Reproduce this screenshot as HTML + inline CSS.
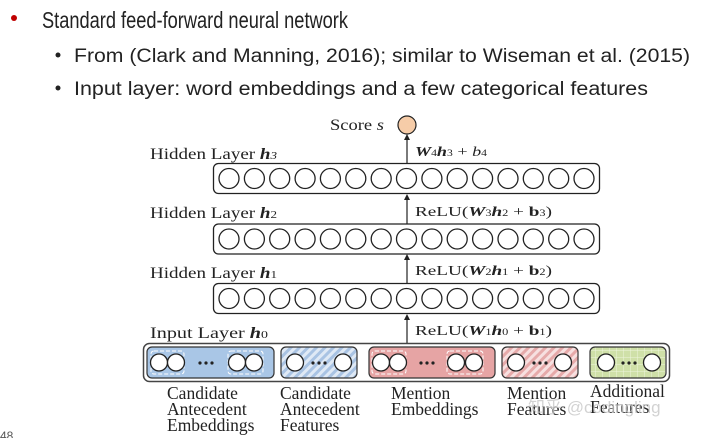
<!DOCTYPE html>
<html><head><meta charset="utf-8"><style>
html,body{margin:0;padding:0;background:#fff;width:720px;height:438px;overflow:hidden}
svg{display:block}
.s{font-family:"Liberation Serif",serif;fill:#222}
</style></head><body>
<svg width="720" height="438" viewBox="0 0 720 438" xmlns="http://www.w3.org/2000/svg">
<defs>
<pattern id="diagB" width="6" height="6" patternUnits="userSpaceOnUse" patternTransform="rotate(45)"><rect width="6" height="6" fill="#dfe9f5"/><rect width="3" height="6" fill="#a9c3e3"/></pattern>
<pattern id="diagR" width="6" height="6" patternUnits="userSpaceOnUse" patternTransform="rotate(45)"><rect width="6" height="6" fill="#f7e0e0"/><rect width="3" height="6" fill="#e6aaaa"/></pattern>
<pattern id="grid" width="7" height="7" patternUnits="userSpaceOnUse"><rect width="7" height="7" fill="#cfe0a8"/><path d="M0 0H7M0 0V7" stroke="#eef5dc" stroke-width="1"/></pattern>
<g id="row" fill="#fff" stroke="#222" stroke-width="1.3">
<circle cx="229" cy="0" r="10"/><circle cx="254.4" cy="0" r="10"/><circle cx="279.7" cy="0" r="10"/><circle cx="305.1" cy="0" r="10"/><circle cx="330.4" cy="0" r="10"/><circle cx="355.8" cy="0" r="10"/><circle cx="381.2" cy="0" r="10"/><circle cx="406.5" cy="0" r="10"/><circle cx="431.9" cy="0" r="10"/><circle cx="457.2" cy="0" r="10"/><circle cx="482.6" cy="0" r="10"/><circle cx="508" cy="0" r="10"/><circle cx="533.3" cy="0" r="10"/><circle cx="558.7" cy="0" r="10"/><circle cx="584" cy="0" r="10"/>
</g>
</defs>

<!-- header -->
<circle cx="14" cy="18" r="3" fill="#c00000"/>
<text x="42" y="28" font-family="Liberation Sans,sans-serif" font-size="23" fill="#222" textLength="306" lengthAdjust="spacingAndGlyphs">Standard feed-forward neural network</text>
<circle cx="58" cy="55" r="2.5" fill="#222"/>
<text x="74" y="62" font-family="Liberation Sans,sans-serif" font-size="19" fill="#222" textLength="616" lengthAdjust="spacingAndGlyphs">From (Clark and Manning, 2016); similar to Wiseman et al. (2015)</text>
<circle cx="58" cy="88" r="2.5" fill="#222"/>
<text x="74" y="95" font-family="Liberation Sans,sans-serif" font-size="19" fill="#222" textLength="574" lengthAdjust="spacingAndGlyphs">Input layer: word embeddings and a few categorical features</text>

<!-- score -->
<text class="s" x="330" y="130" font-size="15.5" textLength="54" lengthAdjust="spacingAndGlyphs">Score <tspan font-style="italic">s</tspan></text>
<circle cx="407" cy="125" r="9" fill="#f6cca8" stroke="#222" stroke-width="1.2"/>

<!-- arrows -->
<g stroke="#222" stroke-width="1.2">
<line x1="407" y1="163" x2="407" y2="138"/>
<line x1="407" y1="224" x2="407" y2="198"/>
<line x1="407" y1="283" x2="407" y2="258"/>
<line x1="407" y1="343" x2="407" y2="318"/>
</g>
<g fill="#222">
<path d="M404 140 L407 134 L410 140Z"/><path d="M404 200 L407 194 L410 200Z"/><path d="M404 260 L407 254 L410 260Z"/><path d="M404 320 L407 314 L410 320Z"/>
</g>

<!-- layer labels -->
<text class="s" x="150" y="159" font-size="16" textLength="127" lengthAdjust="spacingAndGlyphs">Hidden Layer <tspan font-weight="bold" font-style="italic">h</tspan><tspan font-size="11" font-style="italic">3</tspan></text>
<text class="s" x="150" y="218" font-size="16" textLength="127" lengthAdjust="spacingAndGlyphs">Hidden Layer <tspan font-weight="bold" font-style="italic">h</tspan><tspan font-size="11">2</tspan></text>
<text class="s" x="150" y="278" font-size="16" textLength="127" lengthAdjust="spacingAndGlyphs">Hidden Layer <tspan font-weight="bold" font-style="italic">h</tspan><tspan font-size="11">1</tspan></text>
<text class="s" x="150" y="338" font-size="16" textLength="118" lengthAdjust="spacingAndGlyphs">Input Layer <tspan font-weight="bold" font-style="italic">h</tspan><tspan font-size="11">0</tspan></text>

<text class="s" x="415" y="156" font-size="14" textLength="72" lengthAdjust="spacingAndGlyphs"><tspan font-weight="bold" font-style="italic">W</tspan><tspan font-size="9">4</tspan><tspan font-weight="bold" font-style="italic">h</tspan><tspan font-size="9">3</tspan> + <tspan font-style="italic">b</tspan><tspan font-size="9">4</tspan></text>
<text class="s" x="415" y="216" font-size="14" textLength="137" lengthAdjust="spacingAndGlyphs">ReLU(<tspan font-weight="bold" font-style="italic">W</tspan><tspan font-size="9">3</tspan><tspan font-weight="bold" font-style="italic">h</tspan><tspan font-size="9">2</tspan> + <tspan font-weight="bold">b</tspan><tspan font-size="9">3</tspan>)</text>
<text class="s" x="415" y="275" font-size="14" textLength="137" lengthAdjust="spacingAndGlyphs">ReLU(<tspan font-weight="bold" font-style="italic">W</tspan><tspan font-size="9">2</tspan><tspan font-weight="bold" font-style="italic">h</tspan><tspan font-size="9">1</tspan> + <tspan font-weight="bold">b</tspan><tspan font-size="9">2</tspan>)</text>
<text class="s" x="415" y="335" font-size="14" textLength="137" lengthAdjust="spacingAndGlyphs">ReLU(<tspan font-weight="bold" font-style="italic">W</tspan><tspan font-size="9">1</tspan><tspan font-weight="bold" font-style="italic">h</tspan><tspan font-size="9">0</tspan> + <tspan font-weight="bold">b</tspan><tspan font-size="9">1</tspan>)</text>

<!-- hidden layers -->
<rect x="213.5" y="163.5" width="386" height="30" rx="5" fill="#fff" stroke="#222" stroke-width="1.3"/>
<use href="#row" y="178.5"/>
<rect x="213.5" y="224" width="386" height="30" rx="5" fill="#fff" stroke="#222" stroke-width="1.3"/>
<use href="#row" y="239"/>
<rect x="213.5" y="283.5" width="386" height="30" rx="5" fill="#fff" stroke="#222" stroke-width="1.3"/>
<use href="#row" y="298.5"/>

<!-- input layer -->
<rect x="143.5" y="343.5" width="526" height="38" rx="6" fill="#fff" stroke="#444" stroke-width="1.5"/>
<rect x="147" y="347" width="127" height="31" rx="5" fill="#a9c6e6" stroke="#333" stroke-width="1.2"/>
<rect x="151" y="351" width="33" height="23" rx="3" fill="none" stroke="#fff" stroke-dasharray="4 2"/>
<rect x="228" y="351" width="35" height="23" rx="3" fill="none" stroke="#fff" stroke-dasharray="4 2"/>
<rect x="281" y="347" width="76" height="31" rx="5" fill="url(#diagB)" stroke="#333" stroke-width="1.2"/>
<rect x="369" y="347" width="126" height="31" rx="5" fill="#e6a4a4" stroke="#333" stroke-width="1.2"/>
<rect x="372" y="351" width="34" height="23" rx="3" fill="none" stroke="#fff" stroke-dasharray="4 2"/>
<rect x="447" y="351" width="36" height="23" rx="3" fill="none" stroke="#fff" stroke-dasharray="4 2"/>
<rect x="502" y="347" width="76" height="31" rx="5" fill="url(#diagR)" stroke="#333" stroke-width="1.2"/>
<rect x="590" y="347" width="76" height="31" rx="5" fill="url(#grid)" stroke="#333" stroke-width="1.2"/>
<g fill="#fff" stroke="#222" stroke-width="1.3">
<circle cx="159" cy="362.5" r="8.5"/><circle cx="176" cy="362.5" r="8.5"/><circle cx="237" cy="362.5" r="8.5"/><circle cx="254" cy="362.5" r="8.5"/>
<circle cx="295" cy="362.5" r="8.5"/><circle cx="343" cy="362.5" r="8.5"/>
<circle cx="381" cy="362.5" r="8.5"/><circle cx="398" cy="362.5" r="8.5"/><circle cx="456" cy="362.5" r="8.5"/><circle cx="474" cy="362.5" r="8.5"/>
<circle cx="516" cy="362.5" r="8.5"/><circle cx="563" cy="362.5" r="8.5"/>
<circle cx="606" cy="362.5" r="8.5"/><circle cx="652" cy="362.5" r="8.5"/>
</g>
<g fill="#222">
<circle cx="200" cy="363" r="1.6"/><circle cx="206" cy="363" r="1.6"/><circle cx="212" cy="363" r="1.6"/>
<circle cx="313" cy="363" r="1.6"/><circle cx="319" cy="363" r="1.6"/><circle cx="325" cy="363" r="1.6"/>
<circle cx="421" cy="363" r="1.6"/><circle cx="427" cy="363" r="1.6"/><circle cx="433" cy="363" r="1.6"/>
<circle cx="534" cy="363" r="1.6"/><circle cx="540" cy="363" r="1.6"/><circle cx="546" cy="363" r="1.6"/>
<circle cx="623" cy="363" r="1.6"/><circle cx="629" cy="363" r="1.6"/><circle cx="635" cy="363" r="1.6"/>
</g>

<!-- bottom labels -->
<g class="s" font-size="17.5">
<text x="167" y="399">Candidate</text><text x="167" y="415">Antecedent</text><text x="167" y="431">Embeddings</text>
<text x="280" y="399">Candidate</text><text x="280" y="415">Antecedent</text><text x="280" y="431">Features</text>
<text x="391" y="399">Mention</text><text x="391" y="415">Embeddings</text>
<text x="507" y="399">Mention</text><text x="507" y="415">Features</text>
<text x="590" y="397">Additional</text><text x="590" y="413">Features</text>
</g>
<text x="528" y="413" font-family="Liberation Sans,'Noto Sans CJK SC',sans-serif" font-size="17" fill="#c8c8c8" opacity="0.8">知乎 @codingling</text>
<text x="0" y="440" font-family="Liberation Sans,sans-serif" font-size="12" fill="#555">48</text>
</svg>
</body></html>
